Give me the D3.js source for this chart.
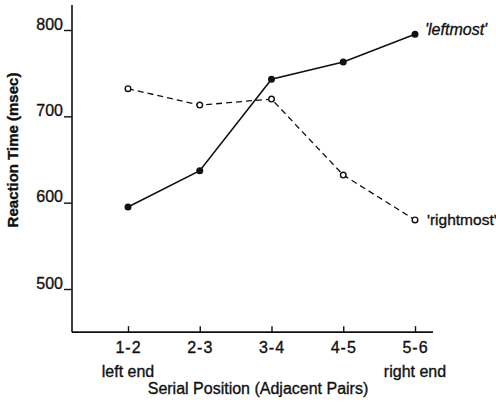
<!DOCTYPE html>
<html lang="en">
<head>
<meta charset="UTF-8">
<title>Reaction Time by Serial Position</title>
<style>
  body { margin: 0; background: #fff; }
  svg text { font-family: "Liberation Sans", Arial, sans-serif; fill: #111; stroke: #111; stroke-width: 0.35px; }
</style>
</head>
<body>
<div id="chart"></div>
<script src="https://cdnjs.cloudflare.com/ajax/libs/d3/7.8.5/d3.min.js"></script>
<script>
// data
var pairs = ["1-2", "2-3", "3-4", "4-5", "5-6"];
var endLabels = ["left end", "", "", "", "right end"];
var leftmost = [595, 637, 743, 763, 795];
var rightmost = [732, 713, 720, 632, 580];
var yTicks = [500, 600, 700, 800];

var width = 496, height = 406;

var svg = d3.select("#chart").append("svg")
    .attr("width", width)
    .attr("height", height);

var x = d3.scalePoint().domain(pairs).range([128, 415]);
var y = d3.scaleLinear().domain([500, 800]).range([289, 30]);

var axisX = 72, axisY = y(450);

// axis lines
svg.append("line")
    .attr("x1", axisX).attr("x2", axisX)
    .attr("y1", y(829)).attr("y2", axisY)
    .attr("stroke", "#111").attr("stroke-width", 1.6);
svg.append("line")
    .attr("x1", axisX).attr("x2", 433)
    .attr("y1", axisY).attr("y2", axisY)
    .attr("stroke", "#111").attr("stroke-width", 1.6);

// y ticks
var yAxis = svg.append("g")
    .attr("transform", "translate(" + axisX + ",0)")
    .call(d3.axisLeft(y).tickValues(yTicks).tickSize(8).tickPadding(1));
yAxis.select(".domain").remove();
yAxis.selectAll(".tick line").attr("stroke", "#111").attr("stroke-width", 1.4);
yAxis.selectAll(".tick text")
    .attr("dy", "-0.05em")
    .style("font-size", "16px")
    .style("font-family", "'Liberation Sans', Arial, sans-serif");

// x ticks (point upward)
var xAxis = svg.append("g")
    .attr("transform", "translate(0," + axisY + ")")
    .call(d3.axisBottom(x).tickSize(-6).tickPadding(9));
xAxis.select(".domain").remove();
xAxis.selectAll(".tick line").attr("stroke", "#111").attr("stroke-width", 1.4);
xAxis.selectAll(".tick text")
    .style("font-size", "16px")
    .style("letter-spacing", "1px")
    .style("font-family", "'Liberation Sans', Arial, sans-serif");

// end labels under first and last pair
svg.append("g").selectAll("text")
    .data(pairs)
    .enter()
    .append("text")
    .attr("x", function(d) { return x(d); })
    .attr("y", axisY + 45)
    .attr("text-anchor", "middle")
    .style("font-size", "16px")
    .text(function(d, i) { return endLabels[i]; });

// axis titles
svg.append("text")
    .attr("x", 258)
    .attr("y", axisY + 62)
    .attr("text-anchor", "middle")
    .style("font-size", "16px")
    .text("Serial Position (Adjacent Pairs)");

svg.append("text")
    .attr("transform", "translate(18,150) rotate(-90)")
    .attr("text-anchor", "middle")
    .style("font-size", "15px")
    .style("font-weight", "bold")
    .text("Reaction Time  (msec)");

// lines
var line = d3.line()
    .x(function(d, i) { return x(pairs[i]); })
    .y(function(d) { return y(d); });

svg.append("path")
    .datum(leftmost)
    .attr("d", line)
    .attr("fill", "none")
    .attr("stroke", "#111")
    .attr("stroke-width", 1.6);

svg.append("path")
    .datum(rightmost)
    .attr("d", line)
    .attr("fill", "none")
    .attr("stroke", "#111")
    .attr("stroke-width", 1.3)
    .attr("stroke-dasharray", "6,4");

svg.append("g").selectAll("circle")
    .data(leftmost)
    .enter()
    .append("circle")
    .attr("cx", function(d, i) { return x(pairs[i]); })
    .attr("cy", function(d) { return y(d); })
    .attr("r", 3.5)
    .attr("fill", "#111");

svg.append("g").selectAll("circle")
    .data(rightmost)
    .enter()
    .append("circle")
    .attr("cx", function(d, i) { return x(pairs[i]); })
    .attr("cy", function(d) { return y(d); })
    .attr("r", 2.8)
    .attr("fill", "#fff")
    .attr("stroke", "#111")
    .attr("stroke-width", 1.4);

// series labels
svg.append("text")
    .attr("x", 425)
    .attr("y", y(leftmost[4]) + 1)
    .style("font-size", "16px")
    .style("font-style", "italic")
    .text("'leftmost'");

svg.append("text")
    .attr("x", 427)
    .attr("y", y(rightmost[4]) + 5)
    .style("font-size", "15.5px")
    .text("'rightmost'");
</script>
</body>
</html>
